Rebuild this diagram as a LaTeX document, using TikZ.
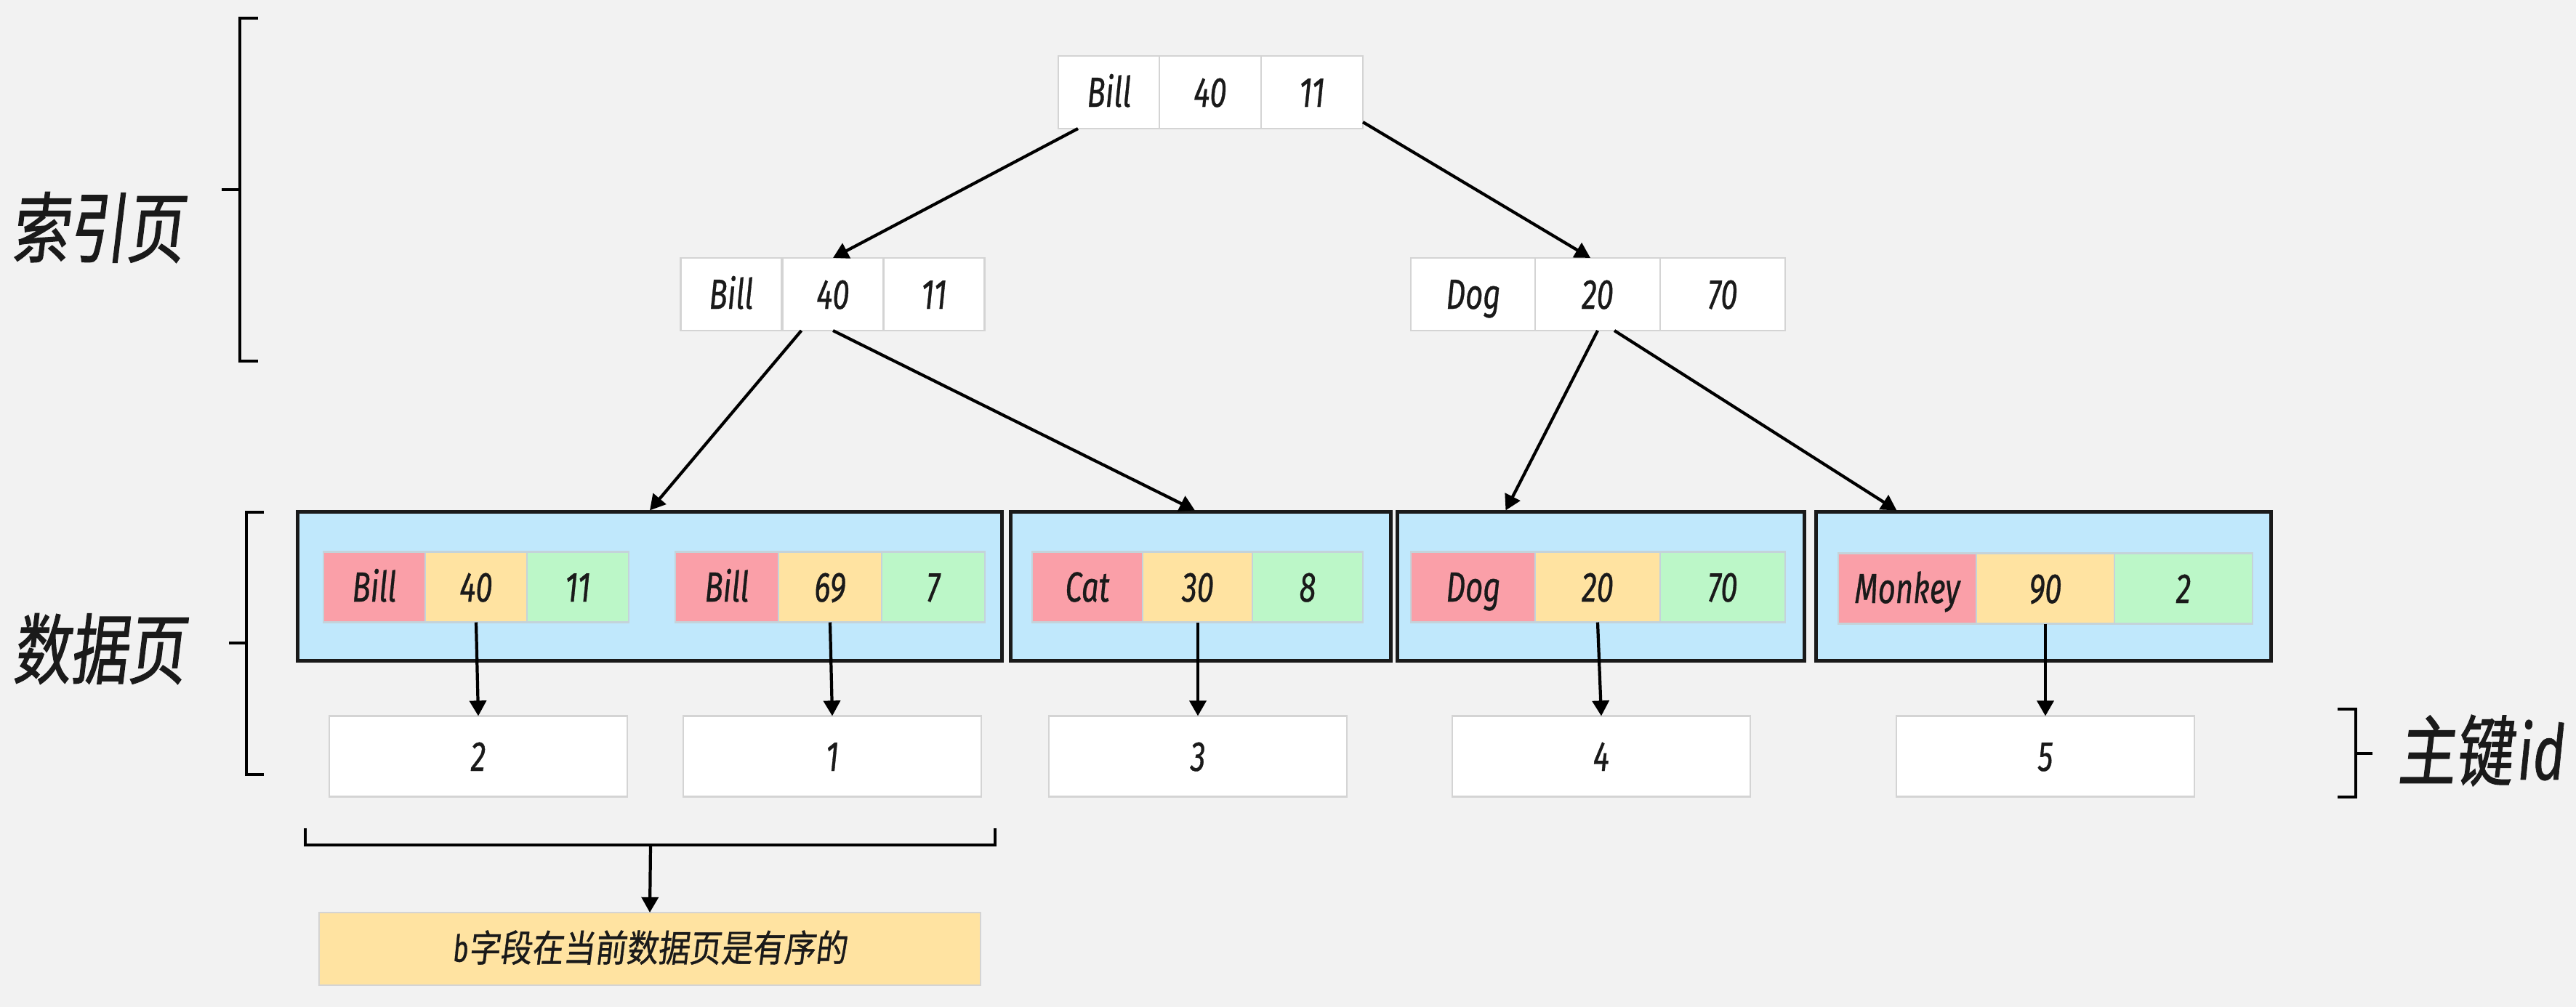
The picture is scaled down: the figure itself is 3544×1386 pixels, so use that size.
\documentclass[tikz,border=0pt]{standalone}
\usepackage{fontspec}
\setmainfont{Fira Sans}[FakeStretch=0.72,FakeBold=0.6]
\newfontfamily\cjk{Noto Sans CJK SC}[FakeStretch=0.75,FakeSlant=0.12,FakeBold=1.2]
\newfontfamily\cjknote{Noto Sans CJK SC}[FakeStretch=0.85,FakeSlant=0.12,FakeBold=0.8]
\usetikzlibrary{arrows.meta}

\definecolor{bgcol}{HTML}{F2F2F2}
\definecolor{pagecol}{HTML}{C0E8FC}
\definecolor{namecol}{HTML}{FA9FA8}
\definecolor{agecol}{HTML}{FFE3A1}
\definecolor{idcol}{HTML}{BCF7C8}
\definecolor{rowline}{HTML}{C4D3DA}
\definecolor{boxline}{HTML}{D4D4D4}
\definecolor{ink}{HTML}{1A1A1A}

\tikzset{
  idx/.style={draw=boxline, line width=0.6pt, fill=white, inner sep=0pt, outer sep=0pt,
    minimum height=1cm, text=ink, text height=11.4pt, text depth=0pt,
    font=\fontsize{16.5}{18}\selectfont\itshape},
  rowc/.style={idx, draw=rowline, minimum height=0.97cm},
  page/.style={draw=ink, line width=1.4pt, fill=pagecol, minimum height=2.04cm},
  keybox/.style={idx, minimum width=4.1cm, minimum height=1.11cm},
  link/.style={draw=black, line width=1.2pt, -{Triangle[length=6pt,width=6.5pt]}},
  brace/.style={draw=black, line width=1.2pt},
  bigtext/.style={text=ink, font=\fontsize{30}{32}\selectfont}
}

\begin{document}
\begin{tikzpicture}[x=0.01cm, y=-0.01cm]
\fill[bgcol] (0,0) rectangle (3544,1386);
\useasboundingbox (0,0) rectangle (3544,1386);

% index pages
\node[idx, minimum width=1.40cm] (t1) at (1526,127) {Bill};
\node[idx, minimum width=1.40cm] (t2) at (1665,127) {40};
\node[idx, minimum width=1.40cm] (t3) at (1805,127) {11};

\node[idx, minimum width=1.39cm] (la1) at (1006,405) {Bill};
\node[idx, minimum width=1.39cm] (la2) at (1146,405) {40};
\node[idx, minimum width=1.39cm] (la3) at (1285,405) {11};

\node[idx, minimum width=1.72cm] (ra1) at (2027,405) {Dog};
\node[idx, minimum width=1.72cm] (ra2) at (2198,405) {20};
\node[idx, minimum width=1.72cm] (ra3) at (2370,405) {70};

% data pages
\node[page, minimum width=9.68cm] (page1) at (894,807) {};
\node[page, minimum width=5.22cm] (page2) at (1652,807) {};
\node[page, minimum width=5.59cm] (page3) at (2202.5,807) {};
\node[page, minimum width=6.25cm] (page4) at (2811.5,807) {};

\node[rowc, fill=namecol, minimum width=1.40cm] (a1) at (515,808) {Bill};
\node[rowc, fill=agecol, minimum width=1.40cm] (a2) at (655,808) {40};
\node[rowc, fill=idcol, minimum width=1.40cm] (a3) at (795,808) {11};

\node[rowc, fill=namecol, minimum width=1.42cm] (b1) at (1000,808) {Bill};
\node[rowc, fill=agecol, minimum width=1.42cm] (b2) at (1142,808) {69};
\node[rowc, fill=idcol, minimum width=1.42cm] (b3) at (1284,808) {7};

\node[rowc, fill=namecol, minimum width=1.52cm] (c1) at (1496,808) {Cat};
\node[rowc, fill=agecol, minimum width=1.52cm] (c2) at (1648,808) {30};
\node[rowc, fill=idcol, minimum width=1.52cm] (c3) at (1799,808) {8};

\node[rowc, fill=namecol, minimum width=1.72cm] (d1) at (2027,808) {Dog};
\node[rowc, fill=agecol, minimum width=1.72cm] (d2) at (2198,808) {20};
\node[rowc, fill=idcol, minimum width=1.72cm] (d3) at (2370,808) {70};

\node[rowc, fill=namecol, minimum width=1.90cm] (e1) at (2624,810) {Monkey};
\node[rowc, fill=agecol, minimum width=1.90cm] (e2) at (2814,810) {90};
\node[rowc, fill=idcol, minimum width=1.90cm] (e3) at (3004,810) {2};

% primary keys
\node[keybox] (k2) at (658,1041) {2};
\node[keybox] (k1) at (1145,1041) {1};
\node[keybox] (k3) at (1648,1041) {3};
\node[keybox] (k4) at (2203,1041) {4};
\node[keybox] (k5) at (2814,1041) {5};

\node[idx, fill=agecol, minimum width=9.10cm, minimum height=1.0cm, text height=10pt,
  font=\fontsize{14.5}{16}\selectfont] (note) at (894,1306)
  {{\itshape b}\cjknote 字段在当前数据页是有序的};

% tree links
\draw[link] ([xshift=0.27cm]t1.south west) -- (la2.north);
\draw[link] ([yshift=0.09cm]t3.south east) -- ([xshift=-0.1cm]ra2.north);
\draw[link] ([xshift=0.26cm]la2.south west) -- (page1.north);
\draw[link] (la2.south) -- ([xshift=-0.08cm]page2.north);
\draw[link] (ra2.south) -- ([xshift=1.51cm]page3.north west);
\draw[link] ([xshift=0.23cm]ra2.south) -- ([xshift=1.13cm]page4.north west);

\draw[link] (a2.south) -- (k2.north);
\draw[link] (b2.south) -- (k1.north);
\draw[link] (c2.south) -- (k3.north);
\draw[link] (d2.south) -- (k4.north);
\draw[link] (e2.south) -- (k5.north);

% brackets
\draw[brace] (355,25) -- (330,25) -- (330,497) -- (355,497);
\draw[brace] (305,261) -- (330,261);
\draw[brace] (363,705) -- (339,705) -- (339,1066) -- (363,1066);
\draw[brace] (315,885) -- (339,885);
\draw[brace] (3216,976) -- (3241,976) -- (3241,1097) -- (3216,1097);
\draw[brace] (3241,1037) -- (3264,1037);
\draw[brace] (420,1140) -- (420,1163) -- (1369,1163) -- (1369,1140);
\coordinate (sortmid) at (895,1163);
\draw[link] (sortmid) -- (note.north);

\node[bigtext] (idxlbl) at (134,313) {\cjk 索引页};
\node[bigtext] (datalbl) at (136,893) {\cjk 数据页};
\node[bigtext, anchor=east, inner sep=0pt] (keylbl) at (3530,1033) {\cjk 主键\hspace{2pt}{\rmfamily\itshape id}};
\end{tikzpicture}
\end{document}
